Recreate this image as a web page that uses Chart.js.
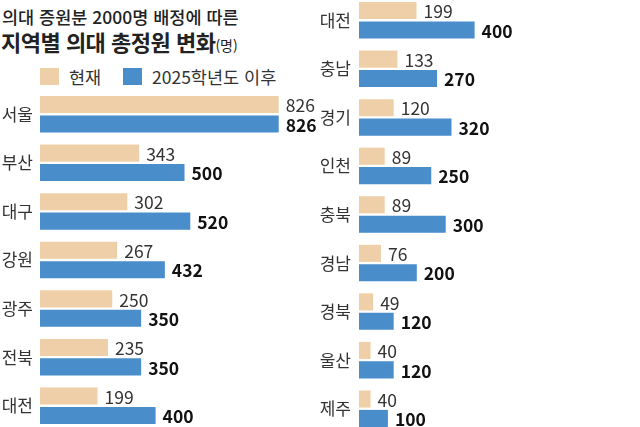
<!DOCTYPE html>
<html lang="ko">
<head>
<meta charset="utf-8">
<script src="https://cdn.jsdelivr.net/npm/chart.js@4.4.1/dist/chart.umd.min.js"></script>
<style>
  html, body { margin: 0; padding: 0; background: #fff; overflow: hidden; }
  body { width: 640px; height: 427px; position: relative; font-family: "Noto Sans CJK KR", "Noto Sans", sans-serif; color: #222; }
  .t1 { position: absolute; left: 2px; top: 4px; font-size: 17.5px; font-weight: 500; }
  .t2 { position: absolute; left: 1px; top: 25px; font-size: 22px; font-weight: 700; letter-spacing: -0.5px; }
  .t2 small { font-size: 14px; font-weight: 400; letter-spacing: 0; }
  .lg { position: absolute; top: 64px; font-size: 17.5px; color: #333; display: flex; align-items: center; }
  .lg i { display: inline-block; width: 19px; height: 17px; margin-right: 10px; }
  canvas { position: absolute; }
</style>
</head>
<body>
<div class="t1">의대 증원분 2000명 배정에 따른</div>
<div class="t2">지역별 의대 총정원 변화<small>(명)</small></div>
<div class="lg" style="left:40px"><i style="background:#efcfa7"></i>현재</div>
<div class="lg" style="left:123px"><i style="background:#4a8dcb"></i>2025학년도 이후</div>
<canvas id="chart1" width="329" height="340" style="left:0;top:90px"></canvas>
<canvas id="chart2" width="339" height="437" style="left:309px;top:-4px"></canvas>
<script>
const leftRegions = ['서울', '부산', '대구', '강원', '광주', '전북', '대전'];
const leftNow = [826, 343, 302, 267, 250, 235, 199];
const leftAfter = [826, 500, 520, 432, 350, 350, 400];

const rightRegions = ['대전', '충남', '경기', '인천', '충북', '경남', '경북', '울산', '제주'];
const rightNow = [199, 133, 120, 89, 89, 76, 49, 40, 40];
const rightAfter = [400, 270, 320, 250, 300, 200, 120, 120, 100];

const BEIGE = '#efcfa7';
const BLUE = '#4a8dcb';
const FONT = '"Noto Sans CJK KR", "Noto Sans", sans-serif';

// draws the number at the end of every bar
const valueLabels = {
  id: 'valueLabels',
  afterDatasetsDraw(chart) {
    const ctx = chart.ctx;
    ctx.save();
    ctx.textBaseline = 'middle';
    ctx.textAlign = 'left';
    chart.data.datasets.forEach((ds, i) => {
      const meta = chart.getDatasetMeta(i);
      ctx.font = (i === 0 ? '400 17.5px ' : '700 17.5px ') + FONT;
      ctx.fillStyle = i === 0 ? '#333' : '#111';
      meta.data.forEach((bar, j) => {
        ctx.fillText(ds.data[j], bar.x + 7, bar.y + 1);
      });
    });
    ctx.restore();
  }
};

function makeChart(el, labels, now, after, axisWidth, pad) {
  return new Chart(el, {
    type: 'bar',
    data: {
      labels: labels,
      datasets: [
        { label: '현재', data: now, backgroundColor: BEIGE },
        { label: '2025학년도 이후', data: after, backgroundColor: BLUE }
      ]
    },
    options: {
      indexAxis: 'y',
      responsive: false,
      animation: false,
      devicePixelRatio: 1,
      layout: { padding: 0 },
      categoryPercentage: 0.8,
      barPercentage: 0.88,
      plugins: { legend: { display: false }, tooltip: { enabled: false } },
      scales: {
        x: { display: false, min: 0, max: 1000 },
        y: {
          grid: { display: false, drawTicks: false },
          border: { display: false },
          ticks: { color: '#333', padding: pad, font: { family: FONT, size: 17 } },
          afterFit: (scale) => {
            scale.width = axisWidth;
            scale.paddingTop = 0;
            scale.paddingBottom = 0;
          }
        }
      }
    },
    plugins: [valueLabels]
  });
}

makeChart(document.querySelector('#chart1'), leftRegions, leftNow, leftAfter, 40, 7);
makeChart(document.querySelector('#chart2'), rightRegions, rightNow, rightAfter, 50, 8);
</script>
</body>
</html>
